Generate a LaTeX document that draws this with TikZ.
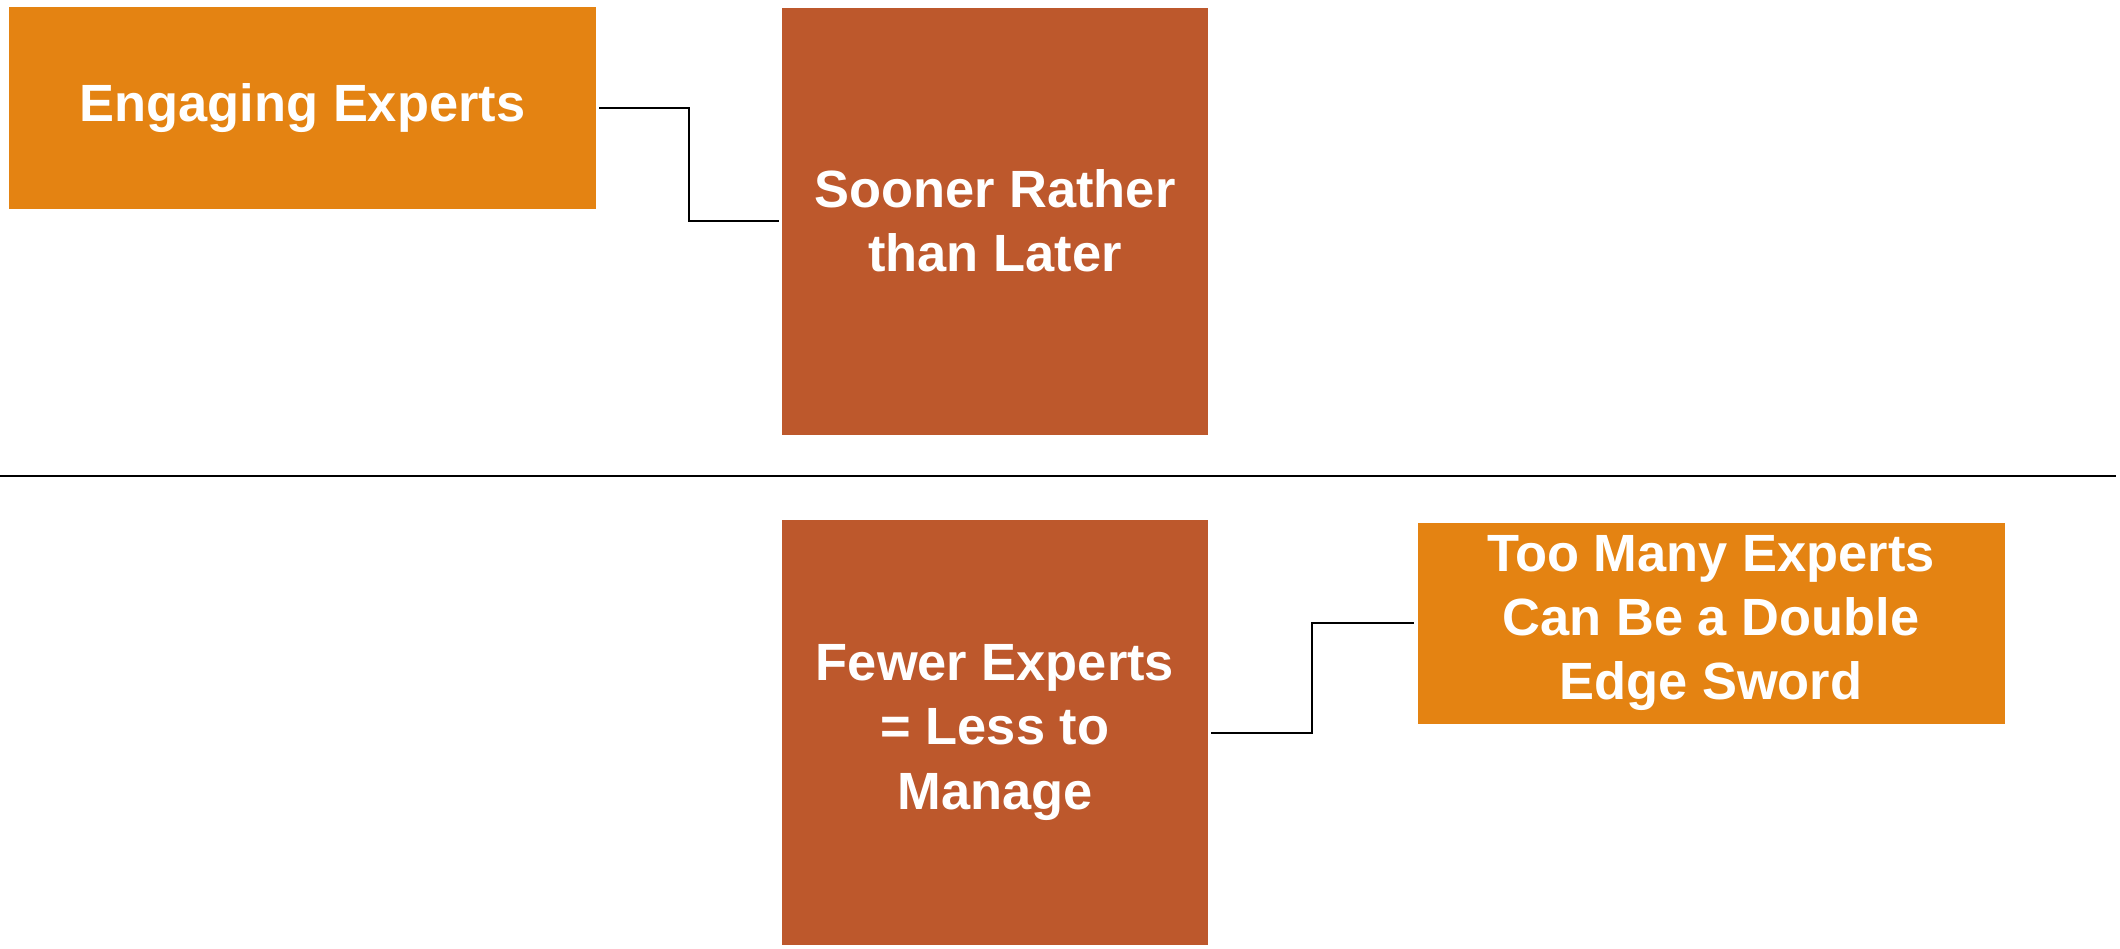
\documentclass[tikz,border=0pt]{standalone}
\usepackage{fontspec}
\setmainfont{Liberation Sans}
\usepackage{tikz}
\definecolor{boxorange}{RGB}{228,131,18}
\definecolor{boxbrown}{RGB}{189,88,44}
\newcommand{\PO}[0]{boxorange}
\newcommand{\PB}[0]{boxbrown}

\begin{document}
\begin{tikzpicture}[x=0.5pt, y=-0.5pt,
  box/.style={rectangle, inner sep=0pt, align=center, text=white,
    font=\fontsize{26.2pt}{32.2pt}\selectfont\bfseries},
  link/.style={draw=black, line width=1pt, shorten <=1.5pt, shorten >=1.5pt}]

  \useasboundingbox (0,0) rectangle (2120,948);

  \newcommand\BoxW{293.5pt}
  \newcommand\BoxH{213.5pt}

  %% upper half
  \node[box, fill=\PO, minimum width=\BoxW, minimum height=101pt]
    (engage) at (302.5,108) {Engaging Experts};
  \node[box, fill=\PB, minimum width=213pt, minimum height=\BoxH]
    (sooner) at (995,221) {Sooner Rather\\than Later};

  \draw[link] (engage.east) -- ++(93,0) |- (sooner.west); %% engage - sooner

  %% divider
  \coordinate (divl) at (0,476);
  \coordinate (divr) at (2116,476);
  \draw[line width=1.3pt] (divl) -- (divr);

  %% lower half
  \node[box, fill=\PB, minimum width=213pt, minimum height=212.5pt]
    (fewer) at (995,732.5) {Fewer Experts\\= Less to\\Manage};
  \node[box, fill=\PO, minimum width=\BoxW, minimum height=100.5pt]
    (toomany) at (1711,623) {Too Many Experts\\Can Be a Double\\Edge Sword};

  \draw[link] (fewer.east) -- ++(104,0) |- (toomany.west); %% fewer - toomany

\end{tikzpicture}
\end{document}
